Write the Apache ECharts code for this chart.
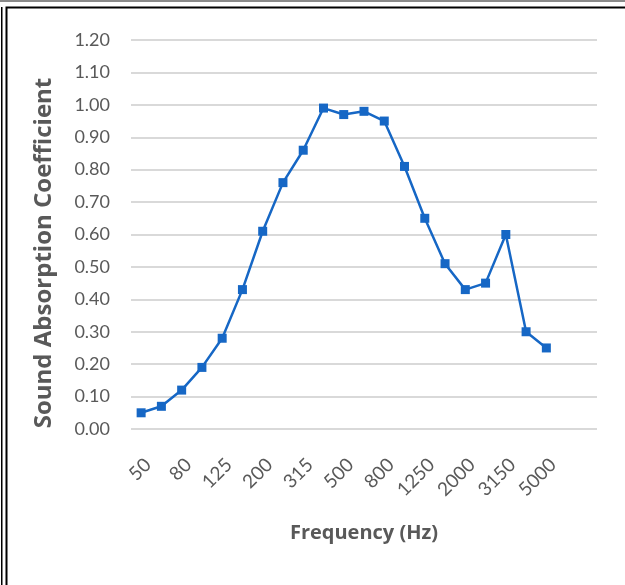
<!DOCTYPE html>
<html>
<head>
<meta charset="utf-8">
<script src="https://cdn.jsdelivr.net/npm/echarts@6/dist/echarts.min.js"></script>
<style>
html,body{margin:0;padding:0;background:#fff;}
#chart{width:625px;height:585px;}
</style>
</head>
<body>
<div id="chart"></div>
<script>
// Data
const frequencies = ['50','63','80','100','125','160','200','250','315','400','500','630','800','1000','1250','1600','2000','2500','3150','4000','5000'];
const absorption = [0.05,0.07,0.12,0.19,0.28,0.43,0.61,0.76,0.86,0.99,0.97,0.98,0.95,0.81,0.65,0.51,0.43,0.45,0.60,0.30,0.25];
const emptyCategories = ['',''];
const yTicks = {min:0, max:1.2, interval:0.1};

const chart = echarts.init(document.getElementById('chart'));
chart.setOption({
  animation:false,
  backgroundColor:'#fff',
  graphic:[
    {type:'rect', shape:{x:0,y:0,width:625,height:2}, style:{fill:'#8a8a8a'}},
    {type:'rect', shape:{x:1,y:7,width:1.5,height:578}, style:{fill:'#000'}},
    {type:'rect', shape:{x:6.5,y:7.5,width:640,height:600}, style:{fill:'none',stroke:'#000',lineWidth:2}},
    {type:'text', x:44, y:253, rotation:Math.PI/2,
     style:{text:'Sound Absorption Coefficient', font:'bold 24px "Open Sans"', fill:'#595959', align:'center', verticalAlign:'middle'}}
  ],
  grid:{left:131, right:28, top:40, bottom:156, containLabel:false},
  xAxis:{
    type:'category',
    data:frequencies.concat(emptyCategories),
    boundaryGap:true,
    name:'Frequency (Hz)',
    nameLocation:'middle',
    nameGap:94,
    nameTextStyle:{fontFamily:'Open Sans', fontWeight:'bold', fontSize:20, color:'#595959'},
    axisLine:{show:false},
    axisTick:{show:false},
    axisLabel:{interval:1, rotate:45, margin:26, align:'right', verticalAlign:'top', fontFamily:'Lato', fontSize:19, color:'#595959', padding:[0,0,0,0]},
    splitLine:{show:false}
  },
  yAxis:{
    type:'value',
    min:yTicks.min, max:yTicks.max, interval:yTicks.interval,
    axisLine:{show:false},
    axisTick:{show:false},
    axisLabel:{margin:21, fontFamily:'Lato', fontSize:18, color:'#595959', formatter:v=>v.toFixed(2)},
    splitLine:{lineStyle:{color:'#d9d9d9', width:2}}
  },
  series:[{
    type:'line',
    data:absorption,
    symbol:'rect',
    symbolSize:9,
    lineStyle:{color:'#1667C5', width:2.5},
    itemStyle:{color:'#1667C5'}
  }]
});
</script>
</body>
</html>
